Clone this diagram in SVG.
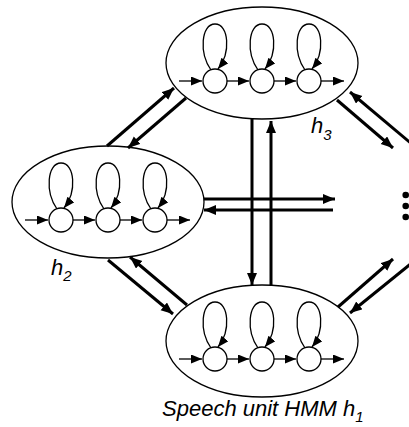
<svg xmlns="http://www.w3.org/2000/svg" width="409" height="427" viewBox="0 0 409 427">
<style>
.ell{fill:none;stroke:#000;stroke-width:1.3}
.st{fill:#fff;stroke:#000;stroke-width:1.3}
.thin{fill:none;stroke:#000;stroke-width:1.3}
.thick{fill:none;stroke:#000;stroke-width:3}
.lbl{font-family:"Liberation Sans",Arial,sans-serif;font-style:italic;font-size:22px;fill:#000}
.sub{font-size:15px}
</style>
<defs>
<marker id="sa" markerUnits="userSpaceOnUse" markerWidth="12" markerHeight="10" refX="11" refY="4.5" orient="auto"><path d="M0,0 L11,4.5 L0,9 Z" fill="#000"/></marker>
<marker id="ba" markerUnits="userSpaceOnUse" markerWidth="13" markerHeight="11" refX="12" refY="5" orient="auto"><path d="M0,0 L12,5 L0,10 Z" fill="#000"/></marker>
<g id="hmm">
<path class="thin" d="M-83,18 H-60" marker-end="url(#sa)"/>
<path class="thin" d="M-35,18 H-13" marker-end="url(#sa)"/>
<path class="thin" d="M12,18 H34" marker-end="url(#sa)"/>
<path class="thin" d="M59,18 H82" marker-end="url(#sa)"/>
<path class="thin" d="M-51,7 C-63,-10 -61,-39 -47,-39 C-33,-39 -31,-10 -44,6" marker-end="url(#sa)"/>
<path class="thin" d="M-4,7 C-16,-10 -14,-39 0,-39 C14,-39 16,-10 3,6" marker-end="url(#sa)"/>
<path class="thin" d="M43,7 C31,-10 33,-39 47,-39 C61,-39 63,-10 50,6" marker-end="url(#sa)"/>
<circle class="st" cx="-47" cy="18" r="12"/>
<circle class="st" cx="0" cy="18" r="12"/>
<circle class="st" cx="47" cy="18" r="12"/>
</g>
</defs>
<g id="connectors">
<path class="thick" d="M107,146 L174,88" marker-end="url(#ba)"/>
<path class="thick" d="M186,98 L128,148" marker-end="url(#ba)"/>
<path class="thick" d="M108,260 L173,314" marker-end="url(#ba)"/>
<path class="thick" d="M187,305 L130,257" marker-end="url(#ba)"/>
<path class="thick" d="M337,100 L393,148" marker-end="url(#ba)"/>
<path class="thick" d="M413,145 L350,92" marker-end="url(#ba)"/>
<path class="thick" d="M338,307 L393,259" marker-end="url(#ba)"/>
<path class="thick" d="M413,262 L350,313" marker-end="url(#ba)"/>
<path class="thick" d="M204,199 L335,199" marker-end="url(#ba)"/>
<path class="thick" d="M333,210 L204,210" marker-end="url(#ba)"/>
<path class="thick" d="M252,119 L252,285" marker-end="url(#ba)"/>
<path class="thick" d="M271,285 L271,121" marker-end="url(#ba)"/>
</g>
<g id="node-h3">
<ellipse class="ell" cx="262" cy="63" rx="96" ry="56"/>
<use href="#hmm" x="262" y="63"/>
<text class="lbl" x="311" y="133">h<tspan class="sub" dy="7">3</tspan></text>
</g>
<g id="node-h2">
<ellipse class="ell" cx="108" cy="202" rx="96" ry="56"/>
<use href="#hmm" x="108" y="202"/>
<text class="lbl" x="51" y="275">h<tspan class="sub" dy="6">2</tspan></text>
</g>
<g id="node-h1">
<ellipse class="ell" cx="262" cy="341" rx="96" ry="56"/>
<use href="#hmm" x="262" y="341"/>
<text class="lbl" x="162" y="416">Speech unit HMM h<tspan class="sub" dy="6">1</tspan></text>
</g>
<g id="ellipsis">
<circle cx="405.7" cy="195" r="3.3"/>
<circle cx="405.7" cy="206" r="3.3"/>
<circle cx="405.7" cy="217" r="3.3"/>
</g>
</svg>
